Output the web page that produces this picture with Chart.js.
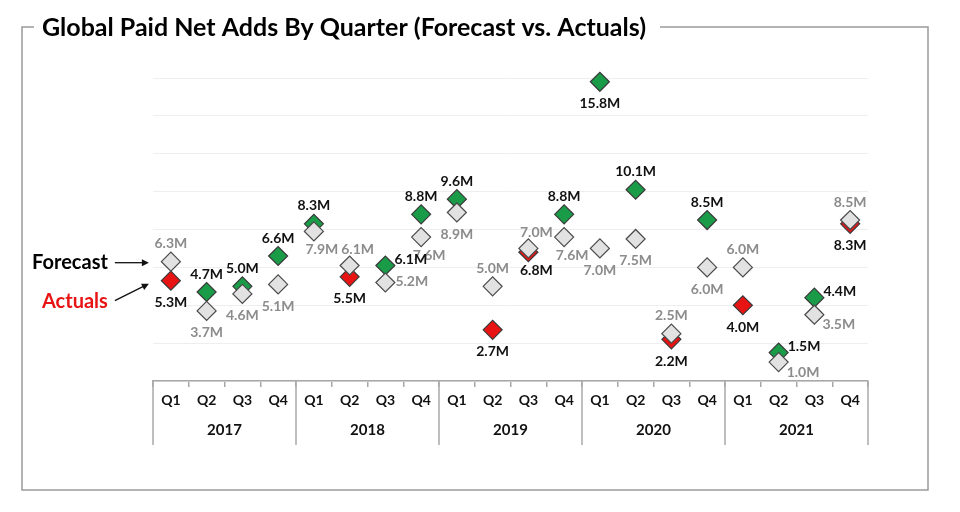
<!DOCTYPE html>
<html>
<head>
<meta charset="utf-8">
<title>Global Paid Net Adds By Quarter</title>
<script src="https://cdn.jsdelivr.net/npm/chart.js@4.4.1/dist/chart.umd.min.js"></script>
<style>
  html, body { margin: 0; padding: 0; background: #fff; }
  #wrap { width: 960px; height: 512px; }
</style>
</head>
<body>
<div id="wrap"><canvas id="myChart"></canvas></div>
<script>
var years = ['2017', '2018', '2019', '2020', '2021'];
var quarters = ['Q1', 'Q2', 'Q3', 'Q4'];

// paid net adds, millions
var forecast = [6.3, 3.7, 4.6, 5.1, 7.9, 6.1, 5.2, 7.6, 8.9, 5.0, 7.0, 7.6, 7.0, 7.5, 2.5, 6.0, 6.0, 1.0, 3.5, 8.5];
var actuals  = [5.3, 4.7, 5.0, 6.6, 8.3, 5.5, 6.1, 8.8, 9.6, 2.7, 6.8, 8.8, 15.8, 10.1, 2.2, 8.5, 4.0, 1.5, 4.4, 8.3];

// where each value label sits next to its diamond
var forecastLabelPos = ['t','b','b','b','br','tr','r','br','b','t','tr','br','b','b','t','b','t','rd','rd','t'];
var actualLabelPos   = ['b','t','t','t','t','b','ru','t','t','b','br','t','b','t','b','t','b','ru','ru','b'];

var GREEN = '#1a9b48';
var RED = '#e81414';
var GREY = '#e2e2e2';
var FONT = 'Lato, "Open Sans", sans-serif';

var labels = [];
years.forEach(function (y) {
  quarters.forEach(function (q) { labels.push(q + ' ' + y); });
});

var offsets = {
  t:  [0, -18, 'center'],
  b:  [0, 22, 'center'],
  tr: [8, -16, 'center'],
  br: [8, 18, 'center'],
  r:  [10, -1, 'left'],
  ru: [9, -6, 'left'],
  rd: [8, 10, 'left']
};

// frame, title and the forecast / actuals pointers
var framePlugin = {
  id: 'frame',
  beforeDraw: function (chart) {
    var ctx = chart.ctx;
    ctx.save();
    ctx.font = 'bold 25px ' + FONT;
    var tw = ctx.measureText('Global Paid Net Adds By Quarter (Forecast vs. Actuals)').width;
    ctx.strokeStyle = '#9a9a9a';
    ctx.lineWidth = 1.5;
    ctx.beginPath();
    ctx.moveTo(42 + tw + 14, 27);
    ctx.lineTo(928, 27);
    ctx.lineTo(928, 490);
    ctx.lineTo(22, 490);
    ctx.lineTo(22, 27);
    ctx.lineTo(34, 27);
    ctx.stroke();
    ctx.fillStyle = '#000';
    ctx.textBaseline = 'middle';
    ctx.textAlign = 'left';
    ctx.fillText('Global Paid Net Adds By Quarter (Forecast vs. Actuals)', 42, 28);
    ctx.restore();
  },
  afterDraw: function (chart) {
    var ctx = chart.ctx;
    var x = chart.scales.x;
    var area = chart.chartArea;
    var step = x.getPixelForValue(1) - x.getPixelForValue(0);
    ctx.save();
    // year group separators and labels
    ctx.strokeStyle = '#a8a8a8';
    ctx.lineWidth = 1.5;
    for (var i = 0; i <= years.length; i++) {
      var px = x.getPixelForValue(i * 4) - step / 2;
      ctx.beginPath();
      ctx.moveTo(px, area.bottom);
      ctx.lineTo(px, area.bottom + 64);
      ctx.stroke();
    }
    ctx.fillStyle = '#111';
    ctx.font = 'bold 15px ' + FONT;
    ctx.textAlign = 'center';
    ctx.textBaseline = 'middle';
    years.forEach(function (y, k) {
      var cx = (x.getPixelForValue(k * 4) + x.getPixelForValue(k * 4 + 3)) / 2;
      ctx.fillText(y, cx, area.bottom + 49);
    });

    // pointers on the first quarter
    var f = chart.getDatasetMeta(0).data[0];
    var a = chart.getDatasetMeta(1).data[0];
    ctx.font = 'bold 20px ' + FONT;
    ctx.textAlign = 'right';
    ctx.fillStyle = '#000';
    ctx.fillText('Forecast', f.x - 63, f.y + 1);
    ctx.fillStyle = RED;
    ctx.fillText('Actuals', f.x - 63, a.y + 21);
    drawArrow(ctx, f.x - 56, f.y + 1, f.x - 22, f.y + 1);
    drawArrow(ctx, f.x - 56, a.y + 20, f.x - 22, a.y + 3);
    ctx.restore();
  },
  afterDatasetsDraw: function (chart) {
    var ctx = chart.ctx;
    ctx.save();
    ctx.font = 'bold 14px ' + FONT;
    ctx.textBaseline = 'middle';
    [[0, forecast, forecastLabelPos, '#8c8c8c'], [1, actuals, actualLabelPos, '#111']].forEach(function (s) {
      var meta = chart.getDatasetMeta(s[0]);
      meta.data.forEach(function (pt, i) {
        var o = offsets[s[2][i]];
        ctx.fillStyle = s[3];
        ctx.textAlign = o[2];
        ctx.fillText(s[1][i].toFixed(1) + 'M', pt.x + o[0], pt.y + o[1]);
      });
    });
    ctx.restore();
  }
};

function drawArrow(ctx, x1, y1, x2, y2) {
  var ang = Math.atan2(y2 - y1, x2 - x1);
  ctx.strokeStyle = '#111';
  ctx.fillStyle = '#111';
  ctx.lineWidth = 1.3;
  ctx.beginPath();
  ctx.moveTo(x1, y1);
  ctx.lineTo(x2 - 5 * Math.cos(ang), y2 - 5 * Math.sin(ang));
  ctx.stroke();
  ctx.beginPath();
  ctx.moveTo(x2, y2);
  ctx.lineTo(x2 - 7 * Math.cos(ang) + 3.5 * Math.sin(ang), y2 - 7 * Math.sin(ang) - 3.5 * Math.cos(ang));
  ctx.lineTo(x2 - 7 * Math.cos(ang) - 3.5 * Math.sin(ang), y2 - 7 * Math.sin(ang) + 3.5 * Math.cos(ang));
  ctx.closePath();
  ctx.fill();
}

var ctx = document.getElementById('myChart');

var myChart = new Chart(ctx, {
  type: 'line',
  data: {
    labels: labels,
    datasets: [{
      label: 'Forecast',
      data: forecast,
      showLine: false,
      pointStyle: 'rectRot',
      pointRadius: 9.5,
      pointBackgroundColor: GREY,
      pointBorderColor: '#4a4a4a',
      pointBorderWidth: 1.2,
      clip: false
    }, {
      label: 'Actuals',
      data: actuals,
      showLine: false,
      pointStyle: 'rectRot',
      pointRadius: 9.5,
      pointBackgroundColor: actuals.map(function (v, i) { return v >= forecast[i] ? GREEN : RED; }),
      pointBorderColor: '#3a3a3a',
      pointBorderWidth: 1.2,
      clip: false
    }]
  },
  options: {
    responsive: true,
    maintainAspectRatio: false,
    animation: false,
    events: [],
    layout: { padding: { left: 153, right: 92, top: 78, bottom: 66 } },
    plugins: {
      legend: { display: false },
      tooltip: { enabled: false }
    },
    scales: {
      x: {
        offset: true,
        grid: { offset: true, drawOnChartArea: false, drawTicks: true, tickLength: 6, color: '#a8a8a8', lineWidth: 1.5 },
        border: { display: true, color: '#a8a8a8', width: 1.5 },
        ticks: {
          autoSkip: false,
          maxRotation: 0,
          padding: 5,
          color: '#111',
          font: { family: FONT, size: 14, weight: 'bold' },
          callback: function (v, i) { return quarters[i % 4]; }
        },
        afterFit: function (scale) { scale.height = 65; }
      },
      y: {
        min: 0,
        max: 16,
        ticks: { display: false, stepSize: 2 },
        grid: { color: '#eeeeee', drawTicks: false },
        border: { display: false },
        afterFit: function (scale) { scale.width = 0; }
      }
    }
  },
  plugins: [framePlugin]
});
</script>
</body>
</html>
